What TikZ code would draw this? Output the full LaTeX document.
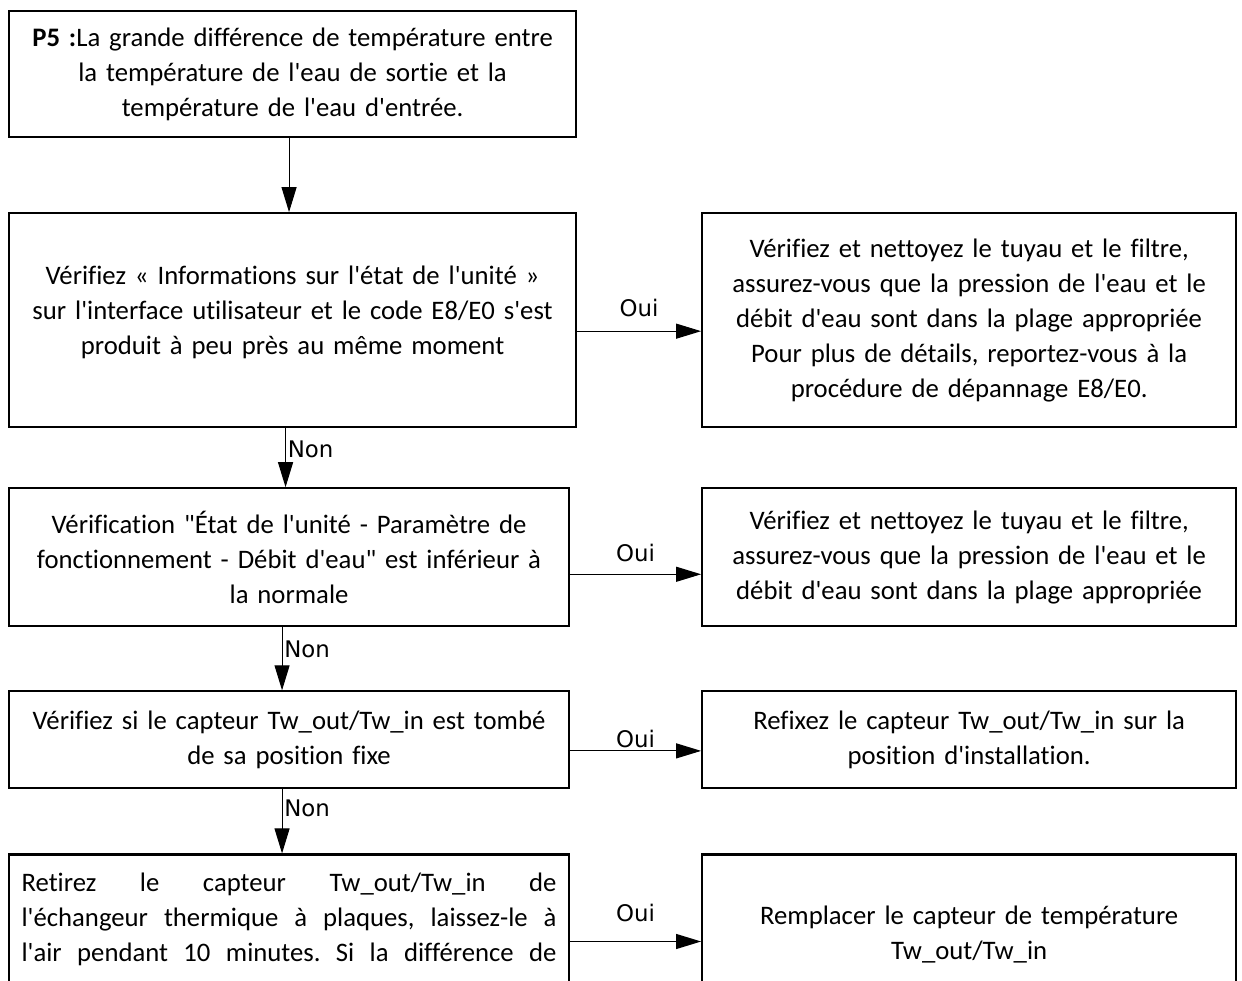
\documentclass[tikz,border=0pt]{standalone}
\usepackage{fontspec}
\setmainfont{Carlito}[Ligatures={TeXOff,NoCommon}]
\newfontfamily\tagfont{DejaVu Sans}
\usetikzlibrary{arrows.meta,positioning}
\frenchspacing

\begin{document}
\begin{tikzpicture}[>={Triangle[length=0.5cm,width=0.3cm]},line width=0.6pt,
 box/.style={draw,line width=1.2pt,align=center,inner xsep=0.15cm,inner ysep=0pt,
   font=\fontsize{15.2}{19.9}\selectfont},
 lbox/.style={box,text width=10.9cm},
 rbox/.style={box,text width=10.38cm},
 tag/.style={font=\tagfont\fontsize{13}{15}\selectfont,inner sep=1pt}]
\useasboundingbox (0,0) rectangle (24.84,-19.62);
\clip (0,0) rectangle (24.84,-19.62);
% left column: the checks
\node[box,text width=11.04cm,minimum height=2.52cm,anchor=north west] (p5) at (0.16,-0.2)
 {\textbf{P5 :}La grande différence de température entre\\la température de l'eau de sortie et la\\température de l'eau d'entrée.};
\node[box,text width=11.04cm,minimum height=4.28cm,below=1.48cm of p5] (etat)
 {Vérifiez « Informations sur l'état de l'unité »\\sur l'interface utilisateur et le code E8/E0 s'est\\produit à peu près au même moment\\[-0.3cm]\mbox{}};
\node[lbox,minimum height=2.76cm,below=1.18cm of etat.south west,anchor=north west] (debit)
 {Vérification "État de l'unité - Paramètre de\\fonctionnement - Débit d'eau" est inférieur à\\la normale};
\node[lbox,minimum height=1.94cm,below=1.26cm of debit] (capteur)
 {Vérifiez si le capteur Tw\_out/Tw\_in est tombé\\de sa position fixe};
\node[lbox,align=justify,text width=10.7cm,inner xsep=0.25cm,minimum height=3.2cm,below=1.28cm of capteur] (retirer)
 {\parfillskip=0pt Retirez le capteur Tw\_out/Tw\_in de\par
  l'échangeur thermique à plaques, laissez-le à\par
  l'air pendant 10 minutes. Si la différence de\par\mbox{}};
% right column: the actions
\node[rbox,minimum height=4.28cm,right=2.48cm of etat.east,anchor=west] (nettoyer)
 {Vérifiez et nettoyez le tuyau et le filtre,\\assurez-vous que la pression de l'eau et le\\débit d'eau sont dans la plage appropriée\\Pour plus de détails, reportez-vous à la\\procédure de dépannage E8/E0.};
\node[rbox,minimum height=2.76cm,right=2.62cm of debit] (filtre)
 {Vérifiez et nettoyez le tuyau et le filtre,\\assurez-vous que la pression de l'eau et le\\débit d'eau sont dans la plage appropriée};
\node[rbox,minimum height=1.94cm,right=2.62cm of capteur] (refixer)
 {Refixez le capteur Tw\_out/Tw\_in sur la\\position d'installation.};
\node[rbox,minimum height=3.2cm,right=2.62cm of retirer] (remplacer)
 {Remplacer le capteur de température\\Tw\_out/Tw\_in};
% connectors
\draw[->] ([xshift=-0.07cm]p5.south) -- ([xshift=-0.07cm]p5.south |- etat.north);
\draw[->] ([xshift=-0.14cm]etat.south) -- node[tag,right,pos=0.35] {Non} ([xshift=-0.14cm]etat.south |- debit.north);
\draw[->] ([xshift=-0.14cm]debit.south) -- node[tag,right,pos=0.35] {Non} ([xshift=-0.14cm]capteur.north);
\draw[->] ([xshift=-0.14cm]capteur.south) -- node[tag,right,pos=0.3] {Non} ([xshift=-0.14cm]retirer.north);
\draw[->] ([yshift=-0.22cm]etat.east) -- node[tag,above=0.25cm] {Oui} ([yshift=-0.22cm]etat.east -| nettoyer.west);
\draw[->] ([yshift=-0.34cm]debit.east) -- node[tag,above=0.2cm] {Oui} ([yshift=-0.34cm]filtre.west);
\draw[->] ([yshift=-0.22cm]capteur.east) -- node[tag,above=0.02cm] {Oui} ([yshift=-0.22cm]refixer.west);
\draw[->] ([yshift=-0.14cm]retirer.east) -- node[tag,above=0.35cm] {Oui} ([yshift=-0.14cm]remplacer.west);
\end{tikzpicture}
\end{document}
